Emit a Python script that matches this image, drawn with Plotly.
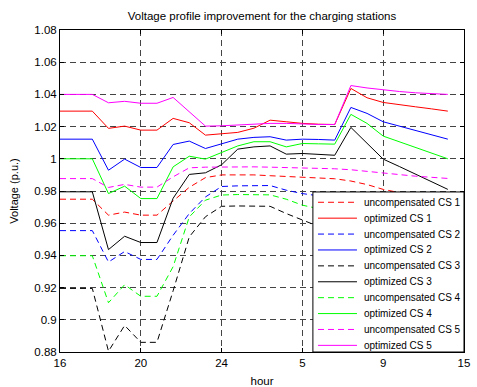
import plotly.graph_objects as go

# ---------------- data ----------------
hour_index = list(range(25))
tick_positions = [0, 5, 10, 15, 20, 25]
tick_labels = ["16", "20", "24", "5", "9", "15"]
y_ticks = [0.88, 0.90, 0.92, 0.94, 0.96, 0.98, 1.00, 1.02, 1.04, 1.06, 1.08]
y_tick_labels = ["0.88", "0.9", "0.92", "0.94", "0.96", "0.98", "1", "1.02", "1.04", "1.06", "1.08"]

uncomp_cs1 = [0.9749, 0.9749, 0.9749, 0.9650, 0.9669, 0.9650, 0.9650, 0.9738, 0.9823, 0.9883, 0.9900,
              0.9900, 0.9900, 0.9895, 0.9890, 0.9882, 0.9880, 0.9876, 0.9862, 0.9840, 0.9810, 0.9790,
              0.9780, 0.9765, 0.9750]
opt_cs1 = [1.0296, 1.0296, 1.0296, 1.0189, 1.0203, 1.0178, 1.0178, 1.0251, 1.0224, 1.0147, 1.0155,
           1.0164, 1.0190, 1.0240, 1.0230, 1.0220, 1.0215, 1.0213, 1.0437, 1.0379, 1.0350, 1.0335,
           1.0323, 1.0310, 1.0296]
uncomp_cs2 = [0.9554, 0.9554, 0.9554, 0.9359, 0.9424, 0.9375, 0.9375, 0.9525, 0.9660, 0.9763, 0.9828,
              0.9832, 0.9834, 0.9834, 0.9805, 0.9784, 0.9770, 0.9760, 0.9750, 0.9720, 0.9680, 0.9650,
              0.9620, 0.9590, 0.9560]
opt_cs2 = [1.0122, 1.0122, 1.0122, 0.9929, 0.9998, 0.9946, 0.9946, 1.0089, 1.0110, 1.0064, 1.0093,
           1.0122, 1.0133, 1.0137, 1.0116, 1.0122, 1.0120, 1.0116, 1.0319, 1.0282, 1.0230, 1.0203,
           1.0176, 1.0149, 1.0122]
uncomp_cs3 = [0.9195, 0.9195, 0.9195, 0.8805, 0.8965, 0.8860, 0.8860, 0.9180, 0.9515, 0.9640, 0.9705,
              0.9707, 0.9707, 0.9705, 0.9660, 0.9620, 0.9580, 0.9550, 0.9520, 0.9450, 0.9400, 0.9350,
              0.9300, 0.9250, 0.9200]
opt_cs3 = [0.9795, 0.9795, 0.9795, 0.9436, 0.9519, 0.9480, 0.9480, 0.9755, 0.9903, 0.9913, 0.9963,
           1.0060, 1.0074, 1.0080, 1.0029, 1.0033, 1.0028, 1.0022, 1.0195, 1.0097, 0.9998, 0.9952,
           0.9905, 0.9858, 0.9810]
uncomp_cs4 = [0.9398, 0.9398, 0.9398, 0.9106, 0.9218, 0.9146, 0.9146, 0.9330, 0.9639, 0.9743, 0.9775,
              0.9778, 0.9778, 0.9776, 0.9749, 0.9712, 0.9690, 0.9670, 0.9650, 0.9600, 0.9550, 0.9500,
              0.9460, 0.9430, 0.9400]
opt_cs4 = [1.0000, 1.0000, 1.0000, 0.9784, 0.9830, 0.9753, 0.9753, 0.9950, 1.0016, 0.9998, 1.0039,
           1.0080, 1.0106, 1.0106, 1.0074, 1.0095, 1.0093, 1.0091, 1.0276, 1.0220, 1.0141, 1.0106,
           1.0070, 1.0036, 1.0000]
uncomp_cs5 = [0.9877, 0.9877, 0.9877, 0.9822, 0.9841, 0.9824, 0.9824, 0.9888, 0.9944, 0.9948, 0.9950,
              0.9950, 0.9950, 0.9948, 0.9946, 0.9944, 0.9941, 0.9938, 0.9932, 0.9922, 0.9909, 0.9900,
              0.9892, 0.9885, 0.9878]
opt_cs5 = [1.0400, 1.0400, 1.0400, 1.0348, 1.0357, 1.0345, 1.0345, 1.0381, 1.0290, 1.0203, 1.0205,
           1.0210, 1.0215, 1.0220, 1.0220, 1.0215, 1.0213, 1.0213, 1.0455, 1.0440, 1.0427, 1.0418,
           1.0410, 1.0405, 1.0400]

series_names = ["uncompensated CS 1", "optimized CS 1", "uncompensated CS 2", "optimized CS 2",
                "uncompensated CS 3", "optimized CS 3", "uncompensated CS 4", "optimized CS 4",
                "uncompensated CS 5", "optimized CS 5"]
series_values = [uncomp_cs1, opt_cs1, uncomp_cs2, opt_cs2, uncomp_cs3, opt_cs3,
                 uncomp_cs4, opt_cs4, uncomp_cs5, opt_cs5]
series_colors = ["#ff0000", "#ff0000", "#0000ff", "#0000ff", "#000000", "#000000",
                 "#00ff00", "#00ff00", "#ff00ff", "#ff00ff"]
series_dash = ["6px,4px", "solid"] * 5

FONT = "Liberation Sans, Arial, Helvetica, sans-serif"

fig = go.Figure()
for name, vals, col, dash in zip(series_names, series_values, series_colors, series_dash):
    fig.add_trace(go.Scatter(x=hour_index, y=vals, mode="lines", name=name,
                             line=dict(color=col, width=1, dash=dash), showlegend=False))

# ---- manual MATLAB-style legend (paper coordinates) ----
L_x0, L_x1 = 0.626, 1.0
L_y0, L_y1 = 0.0, 0.497
row_h = 15.9 / 322.0
first_row = 0.497 - (202.3 - 192) / 322.0
shapes = [dict(type="rect", xref="paper", yref="paper", x0=L_x0, x1=L_x1, y0=L_y0, y1=L_y1,
               fillcolor="white", line=dict(color="black", width=1), layer="above")]
annotations = []
for k, (name, col, dash) in enumerate(zip(series_names, series_colors, series_dash)):
    yy = first_row - k * row_h
    shapes.append(dict(type="line", xref="paper", yref="paper", x0=0.6386, x1=0.7351, y0=yy, y1=yy,
                       line=dict(color=col, width=1, dash=dash), layer="above"))
    annotations.append(dict(xref="paper", yref="paper", x=0.7475, y=yy, text=name, showarrow=False,
                            xanchor="left", yanchor="middle", font=dict(size=10, color="black", family=FONT)))

fig.update_layout(
    width=477, height=387,
    margin=dict(l=60, r=13, t=30, b=35, autoexpand=False),
    paper_bgcolor="white", plot_bgcolor="white",
    font=dict(family=FONT, size=11, color="black"),
    title=dict(text="Voltage profile improvement for the charging stations", x=0.5, xref="paper",
               xanchor="center", y=1 - 16 / 387, yanchor="middle", font=dict(size=11.5, color="black")),
    shapes=shapes, annotations=annotations,
    showlegend=False,
)
fig.update_xaxes(range=[0, 25], tickvals=tick_positions, ticktext=tick_labels,
                 showline=True, linecolor="black", linewidth=1, mirror="ticks",
                 ticks="inside", ticklen=4, tickcolor="black", automargin=False,
                 showgrid=True, gridcolor="#444444", gridwidth=1, griddash="6px,4px",
                 zeroline=False, title=dict(text="hour", standoff=12, font=dict(size=11.5)),
                 tickfont=dict(size=11.5))
fig.update_yaxes(range=[0.88, 1.08], tickvals=y_ticks, ticktext=y_tick_labels,
                 showline=True, linecolor="black", linewidth=1, mirror="ticks",
                 ticks="inside", ticklen=4, tickcolor="black", automargin=False,
                 showgrid=True, gridcolor="#444444", gridwidth=1, griddash="6px,4px",
                 zeroline=False, title=dict(text="Voltage (p.u.)", standoff=13, font=dict(size=11)),
                 tickfont=dict(size=11.5))

fig.write_html("out.html")
